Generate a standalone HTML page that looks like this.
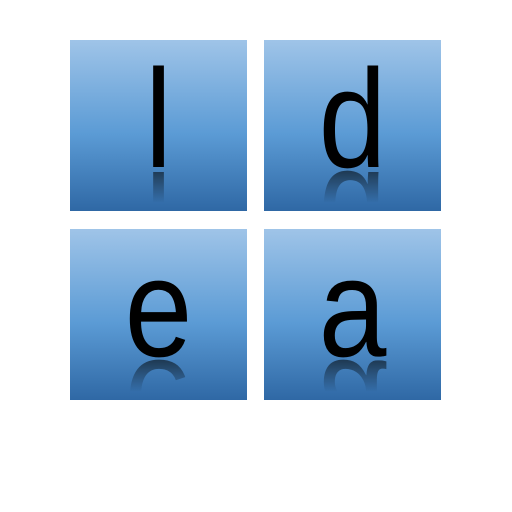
<!DOCTYPE html>
<html><head><meta charset="utf-8"><style>
html,body{margin:0;padding:0;background:#fff;width:512px;height:512px;overflow:hidden}
</style></head><body>
<svg width="512" height="512" viewBox="0 0 512 512">
<defs>
<linearGradient id="tg" x1="0" y1="0" x2="0" y2="1">
<stop offset="0" stop-color="#9fc4e8"/>
<stop offset="0.55" stop-color="#5b9bd5"/>
<stop offset="1" stop-color="#2f68a5"/>
</linearGradient>
<linearGradient id="rf" x1="0" y1="0" x2="0" y2="1">
<stop offset="0" stop-color="#fff" stop-opacity="0.6"/>
<stop offset="0.8" stop-color="#fff" stop-opacity="0"/>
</linearGradient>
<mask id="m1" maskUnits="userSpaceOnUse" x="0" y="0" width="512" height="512">
<rect x="0" y="169" width="512" height="42" fill="url(#rf)"/>
<rect x="0" y="358" width="512" height="42" fill="url(#rf)"/>
</mask>
</defs>
<g>
<rect x="70" y="40" width="177" height="171" fill="url(#tg)"/>
<g transform="translate(158.5,0) scale(0.87,1)"><text x="0" y="167" text-anchor="middle" font-family="Liberation Sans, sans-serif" font-size="140" fill="#000">l</text></g>
</g>
<g>
<rect x="264" y="40" width="177" height="171" fill="url(#tg)"/>
<g transform="translate(352.5,0) scale(0.87,1)"><text x="0" y="167" text-anchor="middle" font-family="Liberation Sans, sans-serif" font-size="140" fill="#000">d</text></g>
</g>
<g>
<rect x="70" y="229" width="177" height="171" fill="url(#tg)"/>
<g transform="translate(158.5,0) scale(0.87,1)"><text x="0" y="356" text-anchor="middle" font-family="Liberation Sans, sans-serif" font-size="140" fill="#000">e</text></g>
</g>
<g>
<rect x="264" y="229" width="177" height="171" fill="url(#tg)"/>
<g transform="translate(352.5,0) scale(0.87,1)"><text x="0" y="356" text-anchor="middle" font-family="Liberation Sans, sans-serif" font-size="140" fill="#000">a</text></g>
</g>
<g mask="url(#m1)">
<g transform="translate(0,339) scale(1,-1)">
<g transform="translate(158.5,0) scale(0.87,1)"><text x="0" y="167" text-anchor="middle" font-family="Liberation Sans, sans-serif" font-size="140" fill="#000">l</text></g>
<g transform="translate(352.5,0) scale(0.87,1)"><text x="0" y="167" text-anchor="middle" font-family="Liberation Sans, sans-serif" font-size="140" fill="#000">d</text></g>
</g>
<g transform="translate(0,717) scale(1,-1)">
<g transform="translate(158.5,0) scale(0.87,1)"><text x="0" y="356" text-anchor="middle" font-family="Liberation Sans, sans-serif" font-size="140" fill="#000">e</text></g>
<g transform="translate(352.5,0) scale(0.87,1)"><text x="0" y="356" text-anchor="middle" font-family="Liberation Sans, sans-serif" font-size="140" fill="#000">a</text></g>
</g>
</g>
</svg>
</body></html>
